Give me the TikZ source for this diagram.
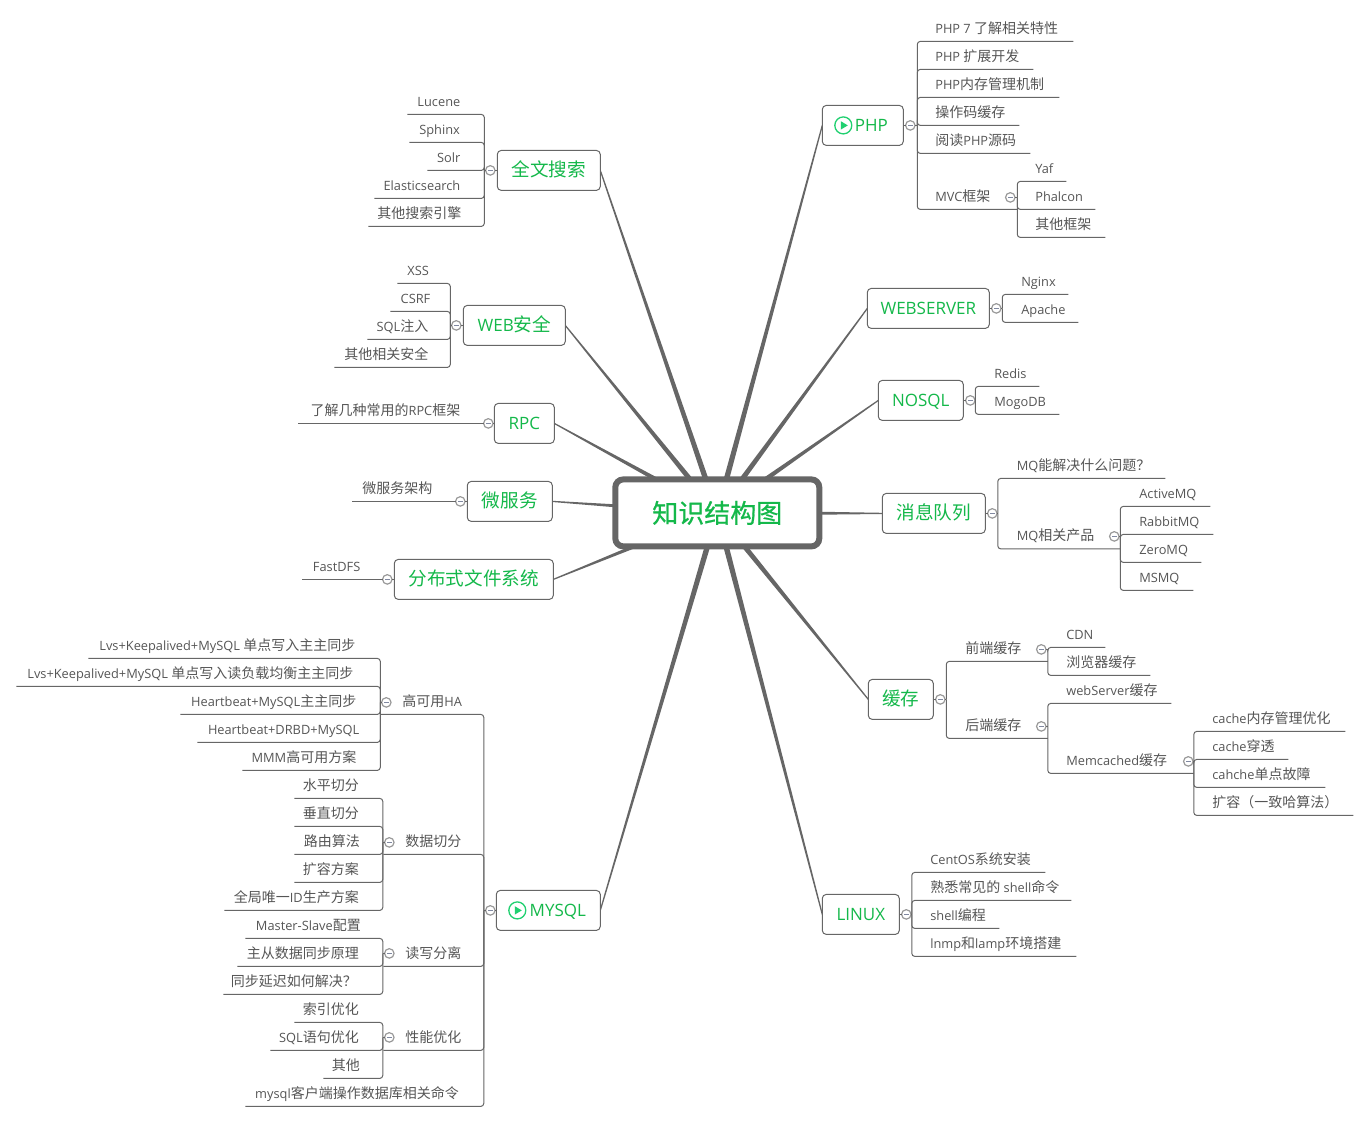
\documentclass[tikz,border=0pt]{standalone}
\usepackage{fontspec}
\setmainfont{Open Sans}
\newfontfamily\cjk[Scale=1.094]{Noto Sans CJK SC}
\newfontfamily\cjktitle[FakeBold=0.7]{Noto Sans CJK SC}
\newcommand\zh[1]{{\cjk #1}}
\usetikzlibrary{calc,backgrounds}
\definecolor{ln}{HTML}{666666}
\definecolor{tx}{HTML}{555555}
\definecolor{gr}{HTML}{14B84A}
\definecolor{ic}{HTML}{20D070}
\definecolor{ring}{HTML}{999999}
\definecolor{dash}{HTML}{8088A0}
\tikzset{
  conn/.style={draw=ln,line width=1pt,rounded corners=3pt},
  tap/.style={fill=ln},
  leaf/.style={inner sep=0pt,outer sep=0pt,anchor=south west,text=tx,font=\fontsize{12.8}{14}\selectfont},
  topic/.style={draw=ln,line width=1pt,rounded corners=4pt,fill=white,outer sep=0pt,inner sep=0pt,minimum height=40pt,text=gr,font=\fontsize{17}{20}\selectfont},
  root/.style={draw=ln,line width=6pt,rounded corners=8pt,fill=white,outer sep=0pt,inner sep=0pt,minimum width=204pt,minimum height=67pt,text=gr,font=\fontsize{26}{28}\selectfont},
  fold/.style={circle,draw=ring,line width=1.2pt,fill=white,minimum size=9.5pt,inner sep=0pt,outer sep=0pt,
    path picture={\draw[line width=1pt,draw=dash] ([xshift=-2.2pt]path picture bounding box.center) -- ([xshift=2.2pt]path picture bounding box.center);}},
  playring/.style={circle,draw=ic,line width=1.3pt,minimum size=17pt,inner sep=0pt,outer sep=0pt},
}
% name, x1, x2, line y, left offset, text
\newcommand\LeafR[6]{\node[leaf] (#1) at (#2,#4) {\makebox[\dimexpr#3pt-#2pt\relax][l]{\hspace*{#5pt}\rule[-8pt]{0pt}{28pt}#6}};}
% name, x1, x2, line y, right margin, text
\newcommand\LeafL[6]{\node[leaf] (#1) at (#2,#4) {\makebox[\dimexpr#3pt-#2pt\relax][r]{\rule[-8pt]{0pt}{28pt}#6\hspace*{#5pt}}};}
\newcommand\Taper[2]{\fill[tap] ($(#1)!2.9pt!90:(#2)$) -- ($(#1)!2.9pt!-90:(#2)$) -- ($(#2)!0.6pt!90:(#1)$) -- ($(#2)!0.6pt!-90:(#1)$) -- cycle;}
\newcommand\Topic[5]{\node[topic,minimum width=#4pt] (#1) at (#2,#3) {\rule[-5pt]{0pt}{22pt}#5};}
\newcommand\Fold[3]{\node[fold] (#1) at (#2,#3) {};}
\begin{document}
\begin{tikzpicture}[x=1pt,y=-1pt]
\useasboundingbox (0,0) rectangle (1369,1122);
\begin{scope}[shift={(0.3,0.4)}]
% root
\node[root] (c) at (717,512.5) {\cjktitle 知识结构图};
% topics
\Topic{php}{862.5}{125}{81}{\hspace*{17pt}PHP}
\Topic{webserver}{928}{308}{122}{WEBSERVER}
\Topic{nosql}{920.5}{400}{85}{NOSQL}
\Topic{mq}{933.5}{513}{103}{\zh{消息队列}}
\Topic{cache}{900.5}{699}{65}{\zh{缓存}}
\Topic{linux}{860.5}{914}{77}{LINUX}
\Topic{mysql}{548}{910}{104}{\hspace*{19pt}MYSQL}
\Topic{search}{548.5}{170}{103}{\zh{全文搜索}}
\Topic{websec}{514}{325}{102}{WEB\zh{安全}}
\Topic{rpc}{524}{423}{60}{RPC}
\Topic{micro}{509.5}{501}{85}{\zh{微服务}}
\Topic{dfs}{473.5}{579}{159}{\zh{分布式文件系统}}
% play icons
\node[playring] (phpplay) at (843,125) {};
\fill[ic] (840.5,120.8) -- (847.5,125) -- (840.5,129.2) -- cycle;
\node[playring] (mysqlplay) at (517,910) {};
\fill[ic] (514.5,905.8) -- (521.5,910) -- (514.5,914.2) -- cycle;
% tapered branches
\begin{scope}[on background layer]
\Taper{c.center}{php.west}
\Taper{c.center}{webserver.west}
\Taper{c.center}{nosql.west}
\Taper{c.center}{mq.west}
\Taper{c.center}{cache.west}
\Taper{c.center}{linux.west}
\Taper{c.center}{mysql.east}
\Taper{c.center}{search.east}
\Taper{c.center}{websec.east}
\Taper{c.center}{rpc.east}
\Taper{c.center}{micro.east}
\Taper{c.center}{dfs.east}
\end{scope}
% PHP
\coordinate (jphp) at (917,125);
\LeafR{p1}{917}{1073}{41}{18}{PHP 7 \zh{了解相关特性}}
\LeafR{p2}{917}{1033}{69}{18}{PHP \zh{扩展开发}}
\LeafR{p3}{917}{1059}{97}{18}{PHP\zh{内存管理机制}}
\LeafR{p4}{917}{1019}{125}{18}{\zh{操作码缓存}}
\LeafR{p5}{917}{1030}{153}{18}{\zh{阅读}PHP\zh{源码}}
\LeafR{p6}{917}{1017}{209}{18}{MVC\zh{框架}}
\Fold{fphp}{910}{125}
\draw[conn] (php.east) -- (fphp.west) (fphp.east) -- (jphp);
\foreach \n in {p1,p2,p3,p4,p5,p6} \draw[conn] (jphp) |- (\n.south east);
\coordinate (jmvc) at (1017,197);
\LeafR{m1}{1017}{1066}{181}{18}{Yaf}
\LeafR{m2}{1017}{1095}{209}{18}{Phalcon}
\LeafR{m3}{1017}{1105}{237}{18}{\zh{其他框架}}
\Fold{fmvc}{1010}{197}
\draw[conn] (fmvc.east) -- (jmvc);
\foreach \n in {m1,m2,m3} \draw[conn] (jmvc) |- (\n.south east);
% WEBSERVER
\coordinate (jws) at (1002,308);
\LeafR{w1}{1002}{1068}{294}{19}{Nginx}
\LeafR{w2}{1002}{1078}{322}{19}{Apache}
\Fold{fws}{996}{308}
\draw[conn] (webserver.east) -- (fws.west) (fws.east) -- (jws);
\foreach \n in {w1,w2} \draw[conn] (jws) |- (\n.south east);
% NOSQL
\coordinate (jno) at (975,400);
\LeafR{n1}{975}{1039}{386}{19}{Redis}
\LeafR{n2}{975}{1059}{414}{19}{MogoDB}
\Fold{fno}{970}{400}
\draw[conn] (nosql.east) -- (fno.west) (fno.east) -- (jno);
\foreach \n in {n1,n2} \draw[conn] (jno) |- (\n.south east);
% MQ
\coordinate (jmq) at (997.5,513);
\LeafR{q1}{997.5}{1165}{478}{19}{MQ\zh{能解决什么问题？}}
\LeafR{q2}{997.5}{1120}{548.5}{19}{MQ\zh{相关产品}}
\Fold{fmq}{992}{513}
\draw[conn] (mq.east) -- (fmq.west) (fmq.east) -- (jmq);
\foreach \n in {q1,q2} \draw[conn] (jmq) |- (\n.south east);
\coordinate (jqp) at (1120,536);
\LeafR{r1}{1120}{1210}{506}{19}{ActiveMQ}
\LeafR{r2}{1120}{1213}{534}{19}{RabbitMQ}
\LeafR{r3}{1120}{1201}{562}{19}{ZeroMQ}
\LeafR{r4}{1120}{1193}{590}{19}{MSMQ}
\Fold{fqp}{1114}{536}
\draw[conn] (fqp.east) -- (jqp);
\foreach \n in {r1,r2,r3,r4} \draw[conn] (jqp) |- (\n.south east);
% cache
\coordinate (jca) at (946,699);
\LeafR{k1}{946}{1047.5}{661}{19}{\zh{前端缓存}}
\LeafR{k2}{946}{1047.5}{738}{19}{\zh{后端缓存}}
\Fold{fca}{940}{699}
\draw[conn] (cache.east) -- (fca.west) (fca.east) -- (jca);
\foreach \n in {k1,k2} \draw[conn] (jca) |- (\n.south east);
\coordinate (jfe) at (1047.5,649);
\LeafR{e1}{1047.5}{1105}{647}{18.5}{CDN}
\LeafR{e2}{1047.5}{1150}{675}{18.5}{\zh{浏览器缓存}}
\Fold{ffe}{1041}{649}
\draw[conn] (ffe.east) -- (jfe);
\foreach \n in {e1,e2} \draw[conn] (jfe) |- (\n.south east);
\coordinate (jbe) at (1047.5,726);
\LeafR{b1}{1047.5}{1171}{703}{18.5}{webServer\zh{缓存}}
\LeafR{b2}{1047.5}{1193.5}{773}{18.5}{Memcached\zh{缓存}}
\Fold{fbe}{1041}{726}
\draw[conn] (fbe.east) -- (jbe);
\foreach \n in {b1,b2} \draw[conn] (jbe) |- (\n.south east);
\coordinate (jme) at (1193.5,761);
\LeafR{d1}{1193.5}{1345}{731}{18.5}{cache\zh{内存管理优化}}
\LeafR{d2}{1193.5}{1288}{759}{18.5}{cache\zh{穿透}}
\LeafR{d3}{1193.5}{1325}{787}{18.5}{cahche\zh{单点故障}}
\LeafR{d4}{1193.5}{1353}{815}{18.5}{\zh{扩容（一致哈算法）}}
\Fold{fme}{1188}{761}
\draw[conn] (fme.east) -- (jme);
\foreach \n in {d1,d2,d3,d4} \draw[conn] (jme) |- (\n.south east);
% LINUX
\coordinate (jli) at (911.5,914);
\LeafR{l1}{911.5}{1045}{872}{18.5}{CentOS\zh{系统安装}}
\LeafR{l2}{911.5}{1071}{900}{18.5}{\zh{熟悉常见的} shell\zh{命令}}
\LeafR{l3}{911.5}{999}{928}{18.5}{shell\zh{编程}}
\LeafR{l4}{911.5}{1076}{956}{18.5}{lnmp\zh{和}lamp\zh{环境搭建}}
\Fold{fli}{906}{914}
\draw[conn] (linux.east) -- (fli.west) (fli.east) -- (jli);
\foreach \n in {l1,l2,l3,l4} \draw[conn] (jli) |- (\n.south east);
% search
\coordinate (jse) at (484,170);
\LeafL{s1}{407}{484}{114}{24}{Lucene}
\LeafL{s2}{409}{484}{142}{24.5}{Sphinx}
\LeafL{s3}{427}{484}{170}{24}{Solr}
\LeafL{s4}{374}{484}{198}{24}{Elasticsearch}
\LeafL{s5}{368}{484}{226}{23}{\zh{其他搜索引擎}}
\Fold{fse}{490}{170}
\draw[conn] (search.west) -- (fse.east) (fse.west) -- (jse);
\foreach \n in {s1,s2,s3,s4,s5} \draw[conn] (jse) |- (\n.south west);
% web security
\coordinate (jwe) at (450,325);
\LeafL{v1}{397}{450}{283}{21.5}{XSS}
\LeafL{v2}{390}{450}{311}{20}{CSRF}
\LeafL{v3}{367}{450}{339}{22}{SQL\zh{注入}}
\LeafL{v4}{334}{450}{367}{22}{\zh{其他相关安全}}
\Fold{fwe}{456}{325}
\draw[conn] (websec.west) -- (fwe.east) (fwe.west) -- (jwe);
\foreach \n in {v1,v2,v3,v4} \draw[conn] (jwe) |- (\n.south west);
% RPC, micro, DFS
\LeafL{t1}{298}{483}{423}{23}{\zh{了解几种常用的}RPC\zh{框架}}
\Fold{frp}{488}{423}
\draw[conn] (rpc.west) -- (frp.east) (frp.west) -- (t1.south west);
\LeafL{t2}{352}{455}{501}{23}{\zh{微服务架构}}
\Fold{fmi}{460}{501}
\draw[conn] (micro.west) -- (fmi.east) (fmi.west) -- (t2.south west);
\LeafL{t3}{302}{382}{579}{22}{FastDFS}
\Fold{fdf}{387}{579}
\draw[conn] (dfs.west) -- (fdf.east) (fdf.west) -- (t3.south west);
% MYSQL
\coordinate (jmy) at (483.5,910);
\LeafR{y1}{380}{483.5}{714}{22}{\zh{高可用}HA}
\LeafR{y2}{383}{483.5}{854}{22}{\zh{数据切分}}
\LeafR{y3}{383}{483.5}{966}{22}{\zh{读写分离}}
\LeafR{y4}{383}{483.5}{1050}{22}{\zh{性能优化}}
\LeafL{y5}{245}{483.5}{1106}{25}{mysql\zh{客户端操作数据库相关命令}}
\Fold{fmy}{490}{910}
\draw[conn] (mysql.west) -- (fmy.east) (fmy.west) -- (jmy);
\foreach \n in {y1,y2,y3,y4,y5} \draw[conn] (jmy) |- (\n.south west);
% HA
\coordinate (jha) at (380,702);
\LeafL{h1}{88}{380}{658}{25}{Lvs+Keepalived+MySQL \zh{单点写入主主同步}}
\LeafL{h2}{16}{380}{686}{27}{Lvs+Keepalived+MySQL \zh{单点写入读负载均衡主主同步}}
\LeafL{h3}{180}{380}{714}{24}{Heartbeat+MySQL\zh{主主同步}}
\LeafL{h4}{197}{380}{742}{21}{Heartbeat+DRBD+MySQL}
\LeafL{h5}{242}{380}{770}{24}{MMM\zh{高可用方案}}
\Fold{fha}{386}{702}
\draw[conn] (fha.west) -- (jha);
\foreach \n in {h1,h2,h3,h4,h5} \draw[conn] (jha) |- (\n.south west);
% sharding
\coordinate (jsh) at (382.5,842);
\LeafL{a1}{294}{382.5}{798}{24}{\zh{水平切分}}
\LeafL{a2}{294}{382.5}{826}{24}{\zh{垂直切分}}
\LeafL{a3}{294}{382.5}{854}{23}{\zh{路由算法}}
\LeafL{a4}{294}{382.5}{882}{24}{\zh{扩容方案}}
\LeafL{a5}{224}{382.5}{910}{24}{\zh{全局唯一}ID\zh{生产方案}}
\Fold{fsh}{389}{842}
\draw[conn] (fsh.west) -- (jsh);
\foreach \n in {a1,a2,a3,a4,a5} \draw[conn] (jsh) |- (\n.south west);
% read/write split
\coordinate (jrw) at (382.5,953);
\LeafL{g1}{245}{382.5}{938}{22}{Master-Slave\zh{配置}}
\LeafL{g2}{237}{382.5}{966}{24}{\zh{主从数据同步原理}}
\LeafL{g3}{223}{382.5}{994}{26}{\zh{同步延迟如何解决？}}
\Fold{frw}{389}{953}
\draw[conn] (frw.west) -- (jrw);
\foreach \n in {g1,g2,g3} \draw[conn] (jrw) |- (\n.south west);
% performance
\coordinate (jpf) at (382.5,1037);
\LeafL{o1}{294}{382.5}{1022}{24}{\zh{索引优化}}
\LeafL{o2}{270}{382.5}{1050}{24}{SQL\zh{语句优化}}
\LeafL{o3}{323}{382.5}{1078}{23}{\zh{其他}}
\Fold{fpf}{389}{1037}
\draw[conn] (fpf.west) -- (jpf);
\foreach \n in {o1,o2,o3} \draw[conn] (jpf) |- (\n.south west);
\end{scope}
\end{tikzpicture}
\end{document}
